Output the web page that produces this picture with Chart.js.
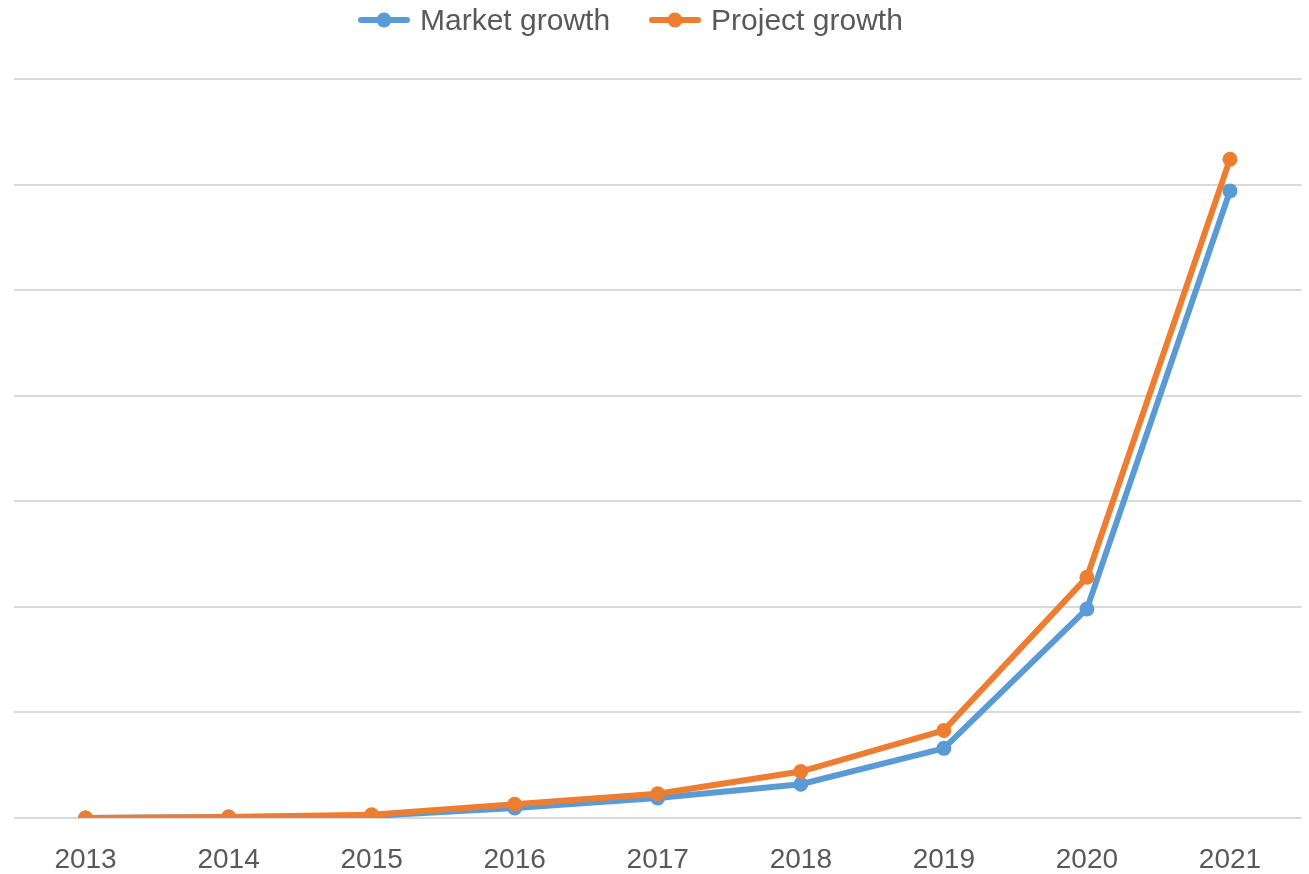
<!DOCTYPE html>
<html>
<head>
<meta charset="utf-8">
<script src="https://cdn.jsdelivr.net/npm/chart.js@4"></script>
<style>
  html, body { margin: 0; padding: 0; background: #fff; overflow: hidden; }
  #wrap { position: relative; width: 1309px; height: 874px; }
  #legend {
    position: absolute; left: 358px; top: 0; height: 40px;
    display: flex; align-items: center;
    font: 30px "Liberation Sans", Arial, sans-serif; color: #595959;
  }
  #legend .item { display: flex; align-items: center; margin-right: 39px; }
  #legend canvas { margin-right: 10px; }
</style>
</head>
<body>
<div id="wrap">
  <div id="legend"></div>
  <canvas id="chart"></canvas>
</div>
<script>
const years = ['2013', '2014', '2015', '2016', '2017', '2018', '2019', '2020', '2021'];
const marketGrowth = [0, 0.01, 0.02, 0.095, 0.19, 0.32, 0.66, 1.98, 5.94];
const projectGrowth = [0, 0.01, 0.03, 0.13, 0.23, 0.44, 0.83, 2.28, 6.24];

const BLUE = '#5B9BD5';
const ORANGE = '#ED7D31';
const FONT = '"Liberation Sans", Arial, sans-serif';

// legend marker: short line with a dot in the middle, like Excel
function legendMarker(color) {
  const c = document.createElement('canvas');
  c.width = 52;
  c.height = 16;
  const g = c.getContext('2d');
  g.strokeStyle = color;
  g.lineWidth = 6;
  g.lineCap = 'round';
  g.beginPath();
  g.moveTo(3, 8);
  g.lineTo(49, 8);
  g.stroke();
  g.fillStyle = color;
  g.beginPath();
  g.arc(26, 8, 7.5, 0, Math.PI * 2);
  g.fill();
  return c;
}

const chart = new Chart(document.getElementById('chart'), {
  type: 'line',
  data: {
    labels: years,
    datasets: [
      {
        label: 'Market growth',
        data: marketGrowth,
        borderColor: BLUE,
        backgroundColor: BLUE,
        borderWidth: 6,
        pointRadius: 7.5,
        pointBorderWidth: 0,
        tension: 0,
        order: 1,
      },
      {
        label: 'Project growth',
        data: projectGrowth,
        borderColor: ORANGE,
        backgroundColor: ORANGE,
        borderWidth: 6,
        pointRadius: 7.5,
        pointBorderWidth: 0,
        tension: 0,
        order: 0,
      },
    ],
  },
  options: {
    responsive: true,
    maintainAspectRatio: false,
    animation: false,
    layout: { padding: { left: 14, right: 7, top: 79, bottom: 0 } },
    plugins: {
      legend: { display: false },
      tooltip: { enabled: false },
    },
    scales: {
      x: {
        offset: true,
        grid: { display: false },
        border: { display: false },
        ticks: { color: '#595959', font: { size: 28, family: FONT }, padding: 17, maxRotation: 0 },
        afterFit: (scale) => { scale.height = 56; },
      },
      y: {
        min: 0,
        max: 7,
        ticks: { display: false, stepSize: 1 },
        grid: { color: '#D9D9D9', lineWidth: 2, drawTicks: false },
        border: { display: false },
      },
    },
  },
});

// html legend, in dataset order
const legendEl = document.getElementById('legend');
chart.data.datasets.forEach(ds => {
  const item = document.createElement('div');
  item.className = 'item';
  item.appendChild(legendMarker(ds.borderColor));
  const span = document.createElement('span');
  span.textContent = ds.label;
  item.appendChild(span);
  legendEl.appendChild(item);
});
</script>
</body>
</html>
